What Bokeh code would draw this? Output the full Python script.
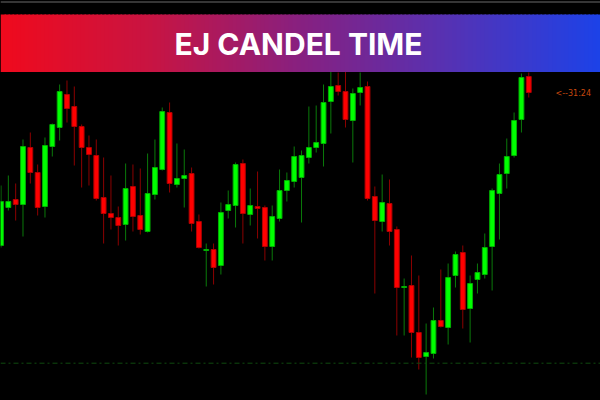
from bokeh.plotting import figure
from bokeh.models import ColumnDataSource, Label, Span
from bokeh.embed import file_html
from bokeh.resources import INLINE

# ---- data (price levels) ----
opens = [155, 193, 201, 196, 253, 228, 194, 254, 273, 306, 294, 274, 253, 245, 203, 187, 183, 176, 214, 185,
         169, 206, 231, 288, 216, 222, 227, 179, 150, 151, 135, 190, 195, 237, 186, 194, 193, 154, 182, 210,
         219, 223, 243, 253, 257, 299, 315, 309, 280, 308, 314, 204, 179, 197, 171, 113, 115, 68, 44, 47,
         80, 73, 125, 148, 92, 121, 126, 154, 207, 227, 245, 281, 324]
closes = [199, 199, 196, 254, 228, 193, 255, 276, 309, 292, 274, 253, 246, 202, 187, 183, 175, 212, 184, 171,
          207, 233, 289, 217, 222, 225, 177, 153, 151, 133, 188, 196, 236, 187, 195, 192, 154, 184, 210, 220,
          244, 245, 253, 258, 298, 314, 309, 281, 307, 313, 202, 180, 198, 169, 113, 114, 68, 43, 48, 80,
          74, 123, 146, 91, 117, 128, 153, 210, 226, 244, 280, 323, 308]
highs = [215, 225, 217, 261, 268, 236, 263, 277, 316, 320, 314, 276, 265, 261, 243, 225, 194, 237, 236, 232,
         247, 261, 293, 298, 257, 251, 233, 186, 157, 157, 198, 210, 238, 241, 212, 229, 195, 195, 231, 228,
         254, 250, 294, 295, 316, 335, 328, 332, 312, 328, 319, 214, 226, 221, 174, 122, 145, 125, 77, 93,
         131, 137, 149, 155, 125, 137, 167, 212, 237, 262, 288, 327, 328]
lows = [153, 190, 180, 164, 217, 185, 183, 244, 260, 278, 235, 213, 215, 200, 157, 171, 155, 160, 169, 166,
        168, 201, 230, 208, 213, 193, 169, 152, 114, 116, 126, 182, 173, 157, 175, 162, 140, 140, 179, 199,
        213, 178, 237, 248, 234, 267, 305, 273, 238, 295, 200, 107, 169, 155, 65, 65, 43, 31, 6, 42,
        73, 56, 113, 72, 58, 107, 122, 110, 161, 212, 243, 268, 303]
level_line = 37.3
title_text = "EJ CANDEL TIME"
timer_text = "<--31:24"

idx = list(range(len(opens)))
up = [c >= o for o, c in zip(opens, closes)]

def pick(flags, want):
    return {
        "x": [i for i, f in zip(idx, flags) if f == want],
        "top": [max(o, c) for o, c, f in zip(opens, closes, flags) if f == want],
        "bottom": [min(o, c) for o, c, f in zip(opens, closes, flags) if f == want],
        "high": [h for h, f in zip(highs, flags) if f == want],
        "low": [l for l, f in zip(lows, flags) if f == want],
    }

src_up = ColumnDataSource(pick(up, True))
src_dn = ColumnDataSource(pick(up, False))

STEP, OFF = 7.33, 0.5
X0, X1 = (0 - OFF) / STEP, (600 - OFF) / STEP
p = figure(width=600, height=400, x_range=(X0, X1), y_range=(0, 400),
           output_backend="svg", toolbar_location=None,
           x_axis_type=None, y_axis_type=None, min_border=0,
           background_fill_color="#000000", border_fill_color="#000000",
           outline_line_color=None)
p.xgrid.visible = False
p.ygrid.visible = False

# dashed level line
p.add_layout(Span(location=level_line, dimension="width", line_color="#0f4a0f",
                  line_width=1, line_dash="5 3 2 3"))

# wicks
p.segment(x0="x", y0="low", x1="x", y1="high", source=src_up, line_color="#0a7a0a", line_width=1)
p.segment(x0="x", y0="low", x1="x", y1="high", source=src_dn, line_color="#8c0000", line_width=1)
# bodies
p.vbar(x="x", top="top", bottom="bottom", width=0.66, source=src_up,
       fill_color="#00ff00", line_color="#00b000", line_width=1)
p.vbar(x="x", top="top", bottom="bottom", width=0.66, source=src_dn,
       fill_color="#ff0000", line_color="#b00000", line_width=1)

# gradient banner
stops = [(0, (240, 10, 28)), (150, (200, 20, 66)), (300, (135, 32, 128)),
         (450, (85, 50, 180)), (600, (28, 66, 232))]
def col_at(px):
    for (a, ca), (b, cb) in zip(stops[:-1], stops[1:]):
        if a <= px <= b:
            t = (px - a) / (b - a)
            return "#%02x%02x%02x" % tuple(int(round(ca[k] + (cb[k] - ca[k]) * t)) for k in range(3))
    return "#%02x%02x%02x" % stops[-1][1]

n = 150
lefts, rights, cols = [], [], []
for k in range(n):
    px0 = k * 600 / n
    px1 = (k + 1) * 600 / n
    lefts.append((px0 - OFF) / STEP)
    rights.append((px1 + 1.5 - OFF) / STEP)
    cols.append(col_at((px0 + px1) / 2))
p.quad(left=lefts, right=rights, bottom=328.5, top=386, fill_color=cols, line_color=None)

# thin grey line at the very top
p.add_layout(Span(location=398.5, dimension="width", line_color="#6a6a6a", line_width=1))

p.add_layout(Label(x=(298 - OFF) / STEP, y=357, text=title_text, text_color="#ffffff",
                   text_font="Inter", text_font_size="30px", text_font_style="bold",
                   text_align="center", text_baseline="middle"))

p.add_layout(Label(x=(555 - OFF) / STEP, y=307, text=timer_text, text_color="#c8480e",
                   text_font="DejaVu Sans", text_font_size="8px",
                   text_align="left", text_baseline="middle"))

html = file_html(p, INLINE)
html = html.replace("</head>", "<style>body{background:#000000;}</style></head>", 1)
open("out.html", "w").write(html)
